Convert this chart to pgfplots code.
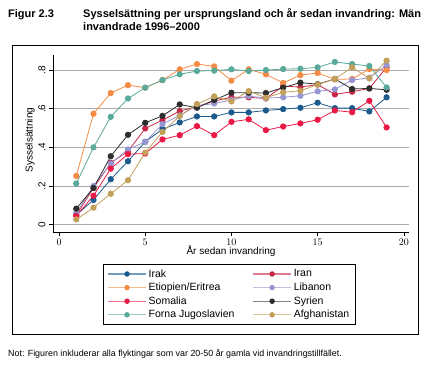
\documentclass[border=0pt]{standalone}
\usepackage{fontspec}
\setmainfont{Liberation Sans}
\usepackage{pgfplots}
\pgfplotsset{compat=1.18}
\definecolor{cIrak}{RGB}{26,90,140}
\definecolor{cIran}{RGB}{200,40,70}
\definecolor{cEti}{RGB}{245,140,70}
\definecolor{cLib}{RGB}{150,150,210}
\definecolor{cSom}{RGB}{235,25,70}
\definecolor{cSyr}{RGB}{45,45,45}
\definecolor{cJug}{RGB}{90,170,155}
\definecolor{cAfg}{RGB}{195,160,90}
\begin{document}
\begin{tikzpicture}
\path[use as bounding box] (0pt,0pt) rectangle (430pt,-366pt);
\node[anchor=base west, inner sep=0pt, font=\bfseries\fontsize{11}{13}\selectfont] at (8pt,-18pt) {Figur 2.3};
\node[anchor=base west, inner sep=0pt, font=\bfseries\fontsize{11}{13}\selectfont] at (83pt,-18pt) {Sysselsättning per ursprungsland och år sedan invandring: Män};
\node[anchor=base west, inner sep=0pt, font=\bfseries\fontsize{11}{13}\selectfont] at (83pt,-31pt) {invandrade 1996–2000};
\draw[line width=0.8pt] (12pt,-45pt) rectangle (418pt,-334pt);
\node[anchor=base west, inner sep=0pt, font=\fontsize{8.9}{10}\selectfont] at (8pt,-356pt) {Not: Figuren inkluderar alla flyktingar som var 20-50 år gamla vid invandringstillfället.};
\node[rotate=90, font=\fontsize{10}{12}\selectfont] at (30pt,-140pt) {Sysselsättning};
\node[font=\fontsize{10}{12}\selectfont] at (231pt,-251pt) {År sedan invandring};
\begin{axis}[
  at={(53pt,-232pt)}, anchor=south west,
  scale only axis, width=356pt, height=177pt,
  xmin=-0.35, xmax=20.3, ymin=-0.038, ymax=0.878,
  axis x line*=bottom, axis y line*=left,
  axis line style={black, line width=0.5pt},
  xtick={0,5,10,15,20},
  ytick={0,0.2,0.4,0.6,0.8},
  yticklabels={0,.2,.4,.6,.8},
  tick align=outside, major tick length=4pt,
  tick style={black, line width=0.5pt},
  ticklabel style={font=\fontsize{10}{12}\selectfont},
  yticklabel style={rotate=90, anchor=south},
  ymajorgrids, grid style={black!33, line width=1pt},
  every axis plot/.append style={line width=0.8pt, mark=*, mark size=2.7pt, mark options={solid}},
  legend columns=2,
  legend style={at={(0.1404,-0.181)}, anchor=north west, draw=black, line width=0.8pt,
    font=\fontsize{10.5}{12}\selectfont, row sep=0.5pt, inner xsep=4pt, inner ysep=3pt,
    /tikz/every even column/.append style={column sep=16pt},
    nodes={inner sep=2pt, anchor=west}},
  legend cell align=left,
  legend image code/.code={
    \draw[#1, mark=none, line width=1.3pt, opacity=0.6] (0pt,0pt) -- (38pt,0pt);
    \draw[#1, mark size=2.3pt] plot coordinates {(19pt,0pt)};
  },
]
\addplot[color=cIrak] coordinates {(1,0.05)(2,0.128)(3,0.235)(4,0.328)(5,0.429)(6,0.494)(7,0.529)(8,0.56)(9,0.56)(10,0.581)(11,0.581)(12,0.591)(13,0.598)(14,0.605)(15,0.631)(16,0.603)(17,0.603)(18,0.586)(19,0.659)};
\addlegendentry{Irak}
\addplot[color=cIran] coordinates {(1,0.05)(2,0.19)(3,0.32)(4,0.38)(5,0.498)(6,0.541)(7,0.588)(8,0.61)(9,0.64)(10,0.659)(11,0.659)(12,0.653)(13,0.717)(14,0.712)(15,0.725)(16,0.674)(17,0.688)(18,0.705)(19,0.814)};
\addlegendentry{Iran}
\addplot[color=cEti] coordinates {(1,0.252)(2,0.574)(3,0.681)(4,0.722)(5,0.709)(6,0.748)(7,0.804)(8,0.831)(9,0.819)(10,0.745)(11,0.804)(12,0.778)(13,0.733)(14,0.774)(15,0.785)(16,0.752)(17,0.754)(18,0.805)(19,0.80)};
\addlegendentry{Etiopien/Eritrea}
\addplot[color=cLib] coordinates {(1,0.06)(2,0.20)(3,0.316)(4,0.389)(5,0.428)(6,0.52)(7,0.565)(8,0.615)(9,0.627)(10,0.645)(11,0.665)(12,0.655)(13,0.659)(14,0.667)(15,0.69)(16,0.70)(17,0.748)(18,0.76)(19,0.826)};
\addlegendentry{Libanon}
\addplot[color=cSom] coordinates {(1,0.045)(2,0.15)(3,0.29)(4,0.365)(5,0.368)(6,0.441)(7,0.463)(8,0.51)(9,0.463)(10,0.532)(11,0.545)(12,0.489)(13,0.508)(14,0.524)(15,0.543)(16,0.591)(17,0.582)(18,0.641)(19,0.503)};
\addlegendentry{Somalia}
\addplot[color=cSyr] coordinates {(1,0.083)(2,0.19)(3,0.354)(4,0.465)(5,0.527)(6,0.563)(7,0.622)(8,0.605)(9,0.645)(10,0.683)(11,0.683)(12,0.681)(13,0.709)(14,0.735)(15,0.727)(16,0.754)(17,0.702)(18,0.705)(19,0.698)};
\addlegendentry{Syrien}
\addplot[color=cJug] coordinates {(1,0.213)(2,0.40)(3,0.558)(4,0.653)(5,0.709)(6,0.748)(7,0.778)(8,0.795)(9,0.797)(10,0.804)(11,0.795)(12,0.80)(13,0.805)(14,0.807)(15,0.814)(16,0.842)(17,0.831)(18,0.821)(19,0.71)};
\addlegendentry{Forna Jugoslavien}
\addplot[color=cAfg] coordinates {(1,0.027)(2,0.088)(3,0.16)(4,0.23)(5,0.373)(6,0.48)(7,0.562)(8,0.624)(9,0.664)(10,0.638)(11,0.691)(12,0.657)(13,0.685)(14,0.693)(15,0.725)(16,0.754)(17,0.814)(18,0.757)(19,0.849)};
\addlegendentry{Afghanistan}
\end{axis}
\end{tikzpicture}
\end{document}
